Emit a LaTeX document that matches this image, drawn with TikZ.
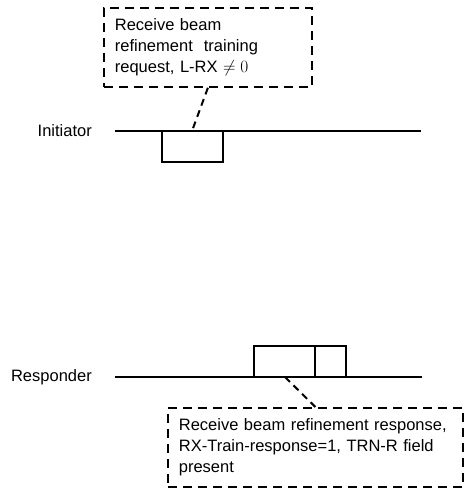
\documentclass[tikz,border=0pt]{standalone}
\usepackage{fontspec}
\setmainfont{Liberation Sans}
\usetikzlibrary{positioning}

\begin{document}
\begin{tikzpicture}[x=1pt, y=-1pt,
  txt/.style={font=\fontsize{16.5}{21}\selectfont},
  note/.style={txt, draw, line width=1.8pt, dash pattern=on 9pt off 6pt, align=left, inner xsep=11pt, inner ysep=0pt, minimum height=79pt},
  slot/.style={draw, line width=1.5pt, minimum width=61pt, minimum height=31pt, inner sep=0pt, outer sep=0pt, anchor=south west},
  lane/.style={line width=1.5pt},
  link/.style={line width=2pt, dash pattern=on 7pt off 5pt},
  lbl/.style={txt, inner sep=0pt, anchor=east}
]
\useasboundingbox (0,0) rectangle (463,489);
% initiator
\node[lbl] (ini) at (92,131) {Initiator};
\coordinate (iniL) at (115,131);
\coordinate (iniR) at (421,131);
\draw[lane] (iniL) -- (iniR);
\node[slot, anchor=north west] (iniS) at (162,131) {};
\node[note, text width=186pt, anchor=north west] (req) at (103,7) {Receive beam\\refinement\ \ training\\request, L-RX $\neq 0$};
\coordinate (reqP) at (192,131);
\draw[link] (req.south) -- (reqP);
% responder
\node[lbl] (res) at (92,377) {Responder};
\coordinate (resL) at (115,377);
\coordinate (resR) at (422,377);
\draw[lane] (resL) -- (resR);
\node[slot] (resA) at (254,377) {};
\node[slot, minimum width=31pt] (resB) at (resA.south east) {};
\node[note, text width=273pt, anchor=north west] (rsp) at (167,407) {Receive beam refinement response,\\RX-Train-response=1, TRN-R field\\present};
\coordinate (rspP) at (285,377);
\draw[link] (rspP) -- (rsp.north);
\end{tikzpicture}
\end{document}
